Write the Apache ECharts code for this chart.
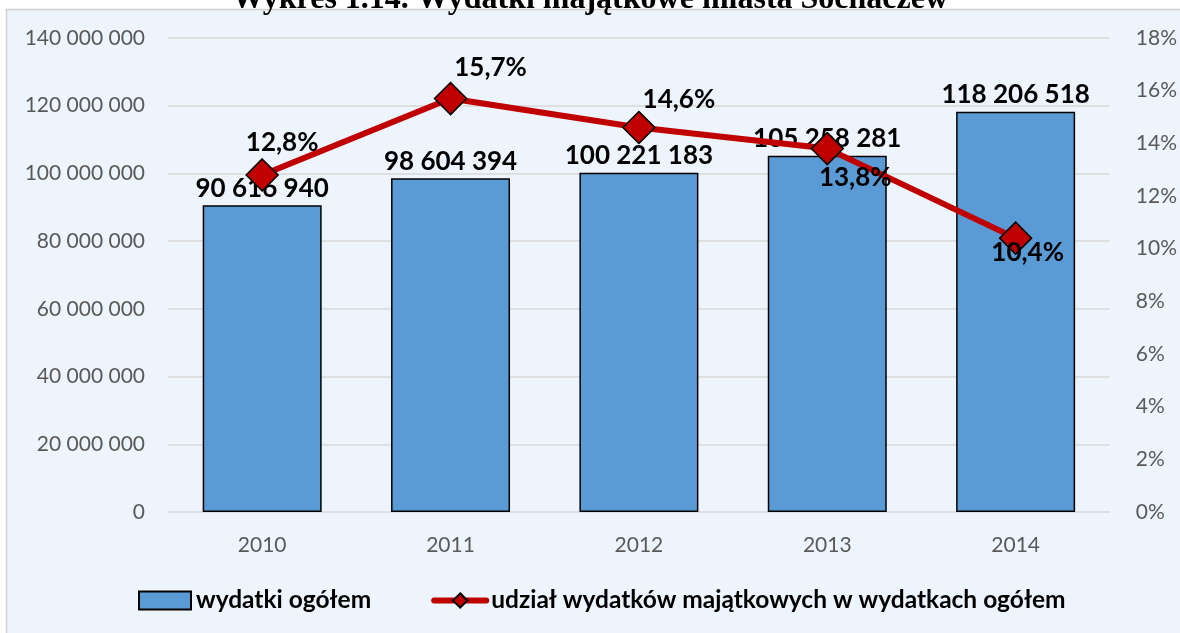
<!DOCTYPE html>
<html>
<head>
<meta charset="utf-8">
<script src="https://cdn.jsdelivr.net/npm/echarts@6/dist/echarts.min.js"></script>
<style>
  html, body { margin: 0; padding: 0; background: #fff; }
  #chart { width: 1180px; height: 633px; }
</style>
</head>
<body>
<div id="chart"></div>
<script>
var years = ["2010", "2011", "2012", "2013", "2014"];
var wydatki = [90616940, 98604394, 100221183, 105258281, 118206518];
var udzial = [12.8, 15.7, 14.6, 13.8, 10.4];
// położenie etykiet procentów względem punktu [dx, dy]
var udzialLabelOffset = [[20, -32], [40, -31], [40, -28], [28, 29], [12, 14]];

function fmtSpace(v) {
  return String(v).replace(/\B(?=(\d{3})+(?!\d))/g, " ");
}

var font = "Lato";

var chart = echarts.init(document.getElementById("chart"));

var lineData = udzial.map(function (v, i) {
  return {
    value: v,
    label: { offset: udzialLabelOffset[i] },
  };
});

chart.setOption({
  animation: false,
  textStyle: { fontFamily: font },
  graphic: [
    {
      type: "rect",
      shape: { x: 6.5, y: 9.5, width: 1200, height: 700 },
      style: { fill: "#EEF4FB", stroke: "#D0D0D0", lineWidth: 1.5 },
      z: -10,
    },
  ],
  title: {
    text: "Wykres 1.14. Wydatki majątkowe miasta Sochaczew",
    left: "center",
    top: -21,
    textStyle: {
      fontFamily: "Liberation Serif",
      fontWeight: "bold",
      fontSize: 32,
      color: "#000",
    },
  },
  grid: { left: 168, right: 67, top: 38, bottom: 121 },
  legend: {
    bottom: 15,
    left: 133,
    itemGap: 60,
    itemWidth: 52,
    itemHeight: 18,
    textStyle: { fontFamily: font, fontSize: 24.5, fontWeight: "bold", color: "#000" },
    data: [
      { name: "wydatki ogółem", icon: "rect" },
      {
        name: "udział wydatków majątkowych w wydatkach ogółem",
        lineStyle: { width: 6, cap: "round" },
      },
    ],
  },
  xAxis: {
    type: "category",
    data: years,
    axisLine: { show: false },
    axisTick: { show: false },
    axisLabel: { color: "#595959", fontSize: 21, margin: 23 },
  },
  yAxis: [
    {
      type: "value",
      min: 0,
      max: 140000000,
      interval: 20000000,
      axisLine: { show: false },
      axisTick: { show: false },
      splitLine: { lineStyle: { color: "#D9D9D9", width: 1.5 } },
      axisLabel: {
        color: "#595959",
        fontSize: 21,
        margin: 23,
        formatter: function (v) { return fmtSpace(v); },
      },
    },
    {
      type: "value",
      min: 0,
      max: 18,
      interval: 2,
      axisLine: { show: false },
      axisTick: { show: false },
      splitLine: { show: false },
      axisLabel: {
        color: "#595959",
        fontSize: 21,
        margin: 26,
        formatter: function (v) { return v + "%"; },
      },
    },
  ],
  series: [
    {
      name: "wydatki ogółem",
      type: "bar",
      data: wydatki,
      barWidth: 119,
      itemStyle: { color: "#5B9BD5", borderColor: "#000", borderWidth: 1.5 },
      label: {
        show: true,
        position: "top",
        distance: 4,
        fontSize: 26,
        fontWeight: "bold",
        color: "#000",
        formatter: function (p) { return fmtSpace(p.value); },
      },
      z: 2,
    },
    {
      name: "udział wydatków majątkowych w wydatkach ogółem",
      type: "line",
      yAxisIndex: 1,
      data: lineData,
      symbol: "diamond",
      symbolSize: 32,
      lineStyle: { color: "#C00000", width: 6 },
      itemStyle: { color: "#C00000", borderColor: "#000", borderWidth: 1.5 },
      label: {
        show: true,
        position: "inside",
        fontSize: 26,
        fontWeight: "bold",
        color: "#000",
        formatter: function (p) { return String(p.value).replace(".", ",") + "%"; },
      },
      z: 3,
    },
  ],
});
</script>
</body>
</html>
